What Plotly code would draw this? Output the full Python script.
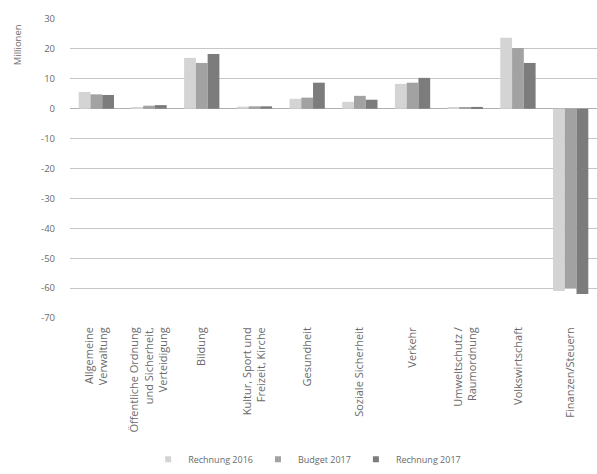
import plotly.graph_objects as go

# Nettoaufwand nach Funktionen, in Millionen
categories = [
    "Allgemeine<br>Verwaltung",
    "Öffentliche Ordnung<br>und Sicherheit,<br>Verteidigung",
    "Bildung",
    "Kultur, Sport und<br>Freizeit, Kirche",
    "Gesundheit",
    "Soziale Sicherheit",
    "Verkehr",
    "Umweltschutz /<br>Raumordnung",
    "Volkswirtschaft",
    "Finanzen/Steuern",
]
rechnung_2016 = [5.6, 0.3, 17.0, 0.7, 3.3, 2.3, 8.3, 0.3, 23.7, -61.0]
budget_2017 = [4.8, 1.0, 15.3, 0.8, 3.7, 4.3, 8.7, 0.4, 20.3, -60.0]
rechnung_2017 = [4.6, 1.2, 18.3, 0.8, 8.7, 3.0, 10.3, 0.6, 15.3, -62.0]

y_ticks = [30, 20, 10, 0, -10, -20, -30, -40, -50, -60, -70]
y_ticktext = [str(v) for v in y_ticks]  # plain hyphen-minus

series = [
    ("Rechnung 2016", rechnung_2016, "#d4d4d4"),
    ("Budget 2017", budget_2017, "#a2a2a2"),
    ("Rechnung 2017", rechnung_2017, "#7c7c7c"),
]

font_family = "Open Sans, Liberation Sans, sans-serif"
text_color = "#6a6a6a"

fig = go.Figure()
for name, values, color in series:
    fig.add_trace(go.Bar(
        x=categories,
        y=values,
        name=name,
        showlegend=False,
        marker=dict(color=color, line=dict(width=0)),
    ))
# small square legend keys
for name, values, color in series:
    fig.add_trace(go.Scatter(
        x=[None], y=[None],
        mode="markers",
        name=name,
        marker=dict(symbol="square", size=6, color=color),
    ))

fig.update_layout(
    width=597,
    height=474,
    margin=dict(l=70, r=0, t=19, b=152),
    paper_bgcolor="white",
    plot_bgcolor="white",
    barmode="group",
    bargap=0.33,
    bargroupgap=0,
    font=dict(family=font_family, size=9, color=text_color),
    showlegend=True,
    legend=dict(
        orientation="h",
        x=0.45,
        xanchor="center",
        y=-0.472,
        yanchor="middle",
        font=dict(size=9, color=text_color),
        itemwidth=30,
        traceorder="normal",
    ),
    xaxis=dict(
        tickangle=-90,
        automargin=False,
        showgrid=False,
        showline=False,
        ticks="",
        ticklabelstandoff=6,
        tickfont=dict(size=11, color=text_color),
    ),
    yaxis=dict(
        range=[-70, 30],
        automargin=False,
        tickvals=y_ticks,
        ticktext=y_ticktext,
        showgrid=True,
        gridcolor="#c6c6c6",
        gridwidth=1,
        zeroline=True,
        zerolinecolor="#b0b0b0",
        zerolinewidth=1,
        showline=False,
        ticks="",
        ticklabelstandoff=14,
        tickfont=dict(size=9.5, color=text_color),
    ),
    annotations=[
        dict(
            text="Millionen",
            xref="paper", yref="paper",
            x=-0.099, y=0.915,
            xanchor="center", yanchor="middle",
            textangle=-90,
            showarrow=False,
            font=dict(size=9.5, color=text_color),
        )
    ],
)

fig.write_html("out.html")
